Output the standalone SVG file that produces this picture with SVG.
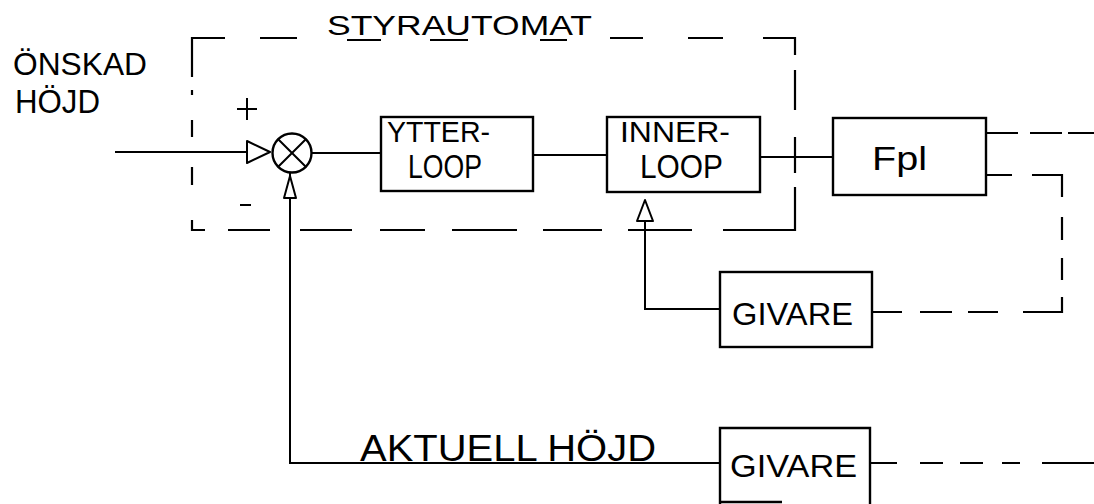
<svg xmlns="http://www.w3.org/2000/svg" width="1094" height="504" viewBox="0 0 1094 504">
<style>
.box{fill:none;stroke:#000;stroke-width:2.4}
.ln{fill:none;stroke:#000;stroke-width:2}
.dsh{fill:none;stroke:#000;stroke-width:2.2;stroke-linecap:butt}
.arr{fill:#fff;stroke:#000;stroke-width:2;stroke-linejoin:round}
.t{font-family:"Liberation Sans","DejaVu Sans",sans-serif;fill:#000}
</style>
<rect width="1094" height="504" fill="#fff"/>
<g id="styrautomat">
<path class="dsh" d="M192,77 V38 H225 M260,38 H297 M610,38 H643 M688,38 H723 M763,38 H795 V55 M795,70 V110 M795,137 V173 M795,187 V230 H723 M692,230 H628 M602,230 H543 M517,230 H452 M425,230 H380 M352,230 H300 M270,230 H228 M205,230 H192 V220 M192,185 V167 M192,137 V120 M192,95 V90"/>
<text class="t" x="327" y="35" font-size="28" textLength="265" lengthAdjust="spacingAndGlyphs">STYRAUTOMAT</text>
<path class="ln" stroke-width="1.6" d="M347,40 H381 M430,40 H468 M540,40 H567"/>
</g>
<g id="input-label">
<text class="t" x="13" y="75" font-size="32" textLength="134" lengthAdjust="spacingAndGlyphs">ÖNSKAD</text>
<text class="t" x="15" y="113" font-size="33" textLength="85" lengthAdjust="spacingAndGlyphs">HÖJD</text>
</g>
<g id="sum">
<circle class="box" cx="292" cy="153" r="19.5"/>
<path class="ln" d="M278.2,139.2 L305.8,166.8 M305.8,139.2 L278.2,166.8"/>
<path class="ln" d="M237,109 H257 M247,98 V120 M240,205 H251"/>
</g>
<g id="ytterloop">
<rect class="box" x="381" y="117" width="152" height="74"/>
<text class="t" x="387" y="142" font-size="30" textLength="103" lengthAdjust="spacingAndGlyphs">YTTER-</text>
<text class="t" x="408" y="178" font-size="33" textLength="74" lengthAdjust="spacingAndGlyphs">LOOP</text>
</g>
<g id="innerloop">
<rect class="box" x="607" y="117" width="153" height="75"/>
<text class="t" x="620" y="142" font-size="30" textLength="110" lengthAdjust="spacingAndGlyphs">INNER-</text>
<text class="t" x="640" y="178" font-size="33" textLength="83" lengthAdjust="spacingAndGlyphs">LOOP</text>
</g>
<g id="fpl">
<rect class="box" x="833" y="118" width="153" height="77"/>
<text class="t" x="872" y="170" font-size="34" textLength="55" lengthAdjust="spacingAndGlyphs">Fpl</text>
</g>
<g id="givare1">
<rect class="box" x="720" y="272" width="152" height="75"/>
<text class="t" x="732" y="325" font-size="32" textLength="121" lengthAdjust="spacingAndGlyphs">GIVARE</text>
</g>
<g id="givare2">
<path class="box" d="M720,506 V428 H870 V506 M720,502 H782"/>
<text class="t" x="730" y="477" font-size="31" textLength="127" lengthAdjust="spacingAndGlyphs">GIVARE</text>
</g>
<g id="connectors">
<path class="ln" d="M115,152 H247"/>
<path class="arr" d="M247,141 L270,152 L247,163 Z"/>
<path class="ln" d="M311.5,153 H381"/>
<path class="ln" d="M533,155 H607"/>
<path class="ln" d="M760,157 H833"/>
<path class="ln" d="M720,463 H290 V172.5"/>
<path class="arr" d="M284,198 L290,176 L296,198 Z"/>
<path class="ln" d="M720,309 H645 V202"/>
<path class="arr" d="M637,221 L645,200 L653,221 Z"/>
<path class="dsh" d="M986,133 H1018 M1030,133 H1062 M1068,133 H1094"/>
<path class="dsh" d="M986,175 H1012 M1032,175 H1062 V197 M1062,217 V240 M1062,258 V280 M1062,297 V312 H1023 M998,312 H968 M952,312 H920 M902,312 H872"/>
<path class="dsh" d="M870,463 H897 M920,463 H943 M960,463 H983 M1002,463 H1020 M1042,463 H1094"/>
<text class="t" x="360" y="461" font-size="36" textLength="296" lengthAdjust="spacingAndGlyphs">AKTUELL HÖJD</text>
</g>
</svg>
